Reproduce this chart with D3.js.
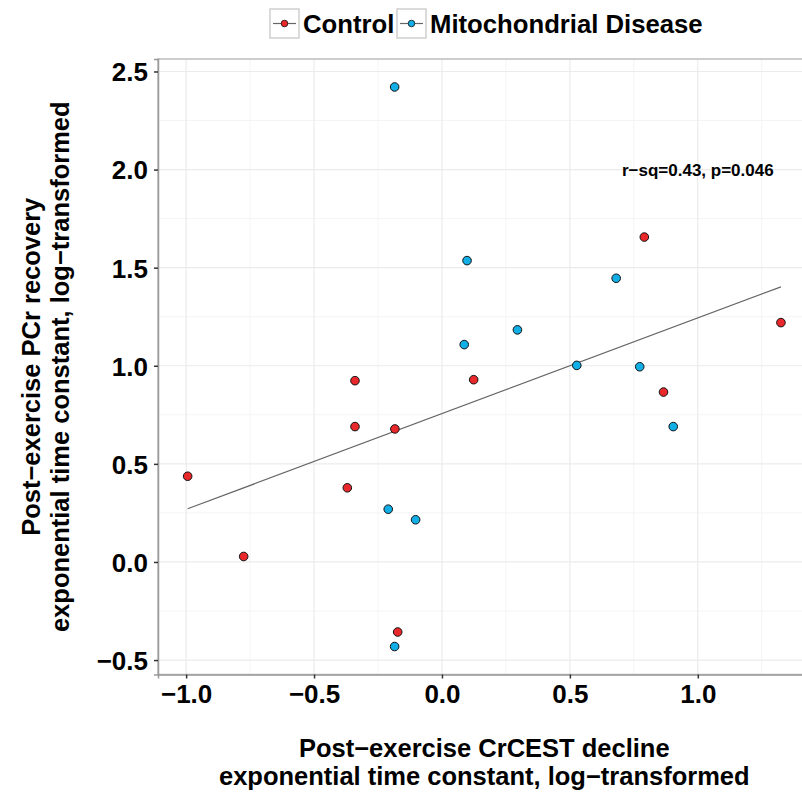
<!DOCTYPE html>
<html>
<head>
<meta charset="utf-8">
<script src="https://cdnjs.cloudflare.com/ajax/libs/d3/7.8.5/d3.min.js"></script>
<style>
  body { margin: 0; background: #ffffff; }
  text { font-family: "Liberation Sans", Arial, Helvetica, sans-serif; font-weight: bold; }
</style>
</head>
<body>
<svg width="802" height="792"></svg>
<script>
// data
var groups = ["Control", "Mitochondrial Disease"];
var controlX = [-0.994, -0.775, -0.370, -0.340, -0.340, -0.184, -0.173, 0.124, 0.791, 0.866, 1.325];
var controlY = [0.437, 0.028, 0.378, 0.924, 0.690, 0.678, -0.357, 0.929, 1.656, 0.866, 1.220];
var diseaseX = [-0.185, -0.210, -0.103, -0.185, 0.087, 0.098, 0.295, 0.527, 0.681, 0.773, 0.904];
var diseaseY = [2.421, 0.269, 0.215, -0.431, 1.108, 1.536, 1.183, 1.002, 1.446, 0.995, 0.690];
var fitX = [-0.994, 1.325];
var fitY = [0.271, 1.402];
var xTicks = [-1.0, -0.5, 0.0, 0.5, 1.0];
var yTicks = [-0.5, 0.0, 0.5, 1.0, 1.5, 2.0, 2.5];
var xMinor = [-0.75, -0.25, 0.25, 0.75, 1.25];
var yMinor = [-0.25, 0.25, 0.75, 1.25, 1.75, 2.25];
var annotation = "r\u2212sq=0.43, p=0.046";

var colors = d3.scaleOrdinal().domain(groups).range(["#e8282b", "#12aee6"]);

var svg = d3.select("svg");
var pLeft = 158, pRight = 810.6, pTop = 59, pBottom = 674.5;

var points = [];
controlX.forEach(function(v, i) { points.push({x: v, y: controlY[i], g: groups[0]}); });
diseaseX.forEach(function(v, i) { points.push({x: v, y: diseaseY[i], g: groups[1]}); });

// ggplot style 5% padding on each side
function expand(ext) {
    var pad = (ext[1] - ext[0]) * 0.05;
    return [ext[0] - pad, ext[1] + pad];
}

var x = d3.scaleLinear()
    .domain(expand(d3.extent(points, function(d) { return d.x; })))
    .range([pLeft, pRight]);
var y = d3.scaleLinear()
    .domain(expand(d3.extent(points, function(d) { return d.y; })))
    .range([pBottom, pTop]);

var fmt = function(d) { return d3.format(".1f")(d).replace("-", "\u2212"); };

// grid
var grid = svg.append("g");
grid.selectAll(".xminor").data(xMinor).enter().append("line")
    .attr("x1", x).attr("x2", x).attr("y1", pTop).attr("y2", pBottom)
    .style("stroke", "#f4f4f4").style("stroke-width", 1);
grid.selectAll(".yminor").data(yMinor).enter().append("line")
    .attr("x1", pLeft).attr("x2", pRight).attr("y1", y).attr("y2", y)
    .style("stroke", "#f4f4f4").style("stroke-width", 1);
grid.selectAll(".xmajor").data(xTicks).enter().append("line")
    .attr("x1", x).attr("x2", x).attr("y1", pTop).attr("y2", pBottom)
    .style("stroke", "#ebebeb").style("stroke-width", 1.2);
grid.selectAll(".ymajor").data(yTicks).enter().append("line")
    .attr("x1", pLeft).attr("x2", pRight).attr("y1", y).attr("y2", y)
    .style("stroke", "#ebebeb").style("stroke-width", 1.2);

// panel border
svg.append("rect")
    .attr("x", pLeft).attr("y", pTop)
    .attr("width", pRight - pLeft).attr("height", pBottom - pTop)
    .attr("fill", "none")
    .style("stroke", "#bdbdbd").style("stroke-width", 1.5);

// axes
var xAxis = svg.append("g")
    .attr("transform", "translate(0," + pBottom + ")")
    .call(d3.axisBottom(x).tickValues(xTicks).tickFormat(fmt).tickSize(4).tickPadding(6));
var yAxis = svg.append("g")
    .attr("transform", "translate(" + pLeft + ",0)")
    .call(d3.axisLeft(y).tickValues(yTicks).tickFormat(fmt).tickSize(4).tickPadding(6));
[xAxis, yAxis].forEach(function(a) {
    a.select(".domain").style("stroke", "#9a9a9a").style("stroke-width", 1.5);
    a.selectAll(".tick line").style("stroke", "#333").style("stroke-width", 1.5);
    a.selectAll(".tick text")
        .style("font-size", "26px").style("font-weight", "bold")
        .style("font-family", "'Liberation Sans', Arial, sans-serif")
        .attr("fill", "#000");
});
yAxis.selectAll(".tick text").attr("dy", "0.36em");

// fit line
svg.append("path")
    .datum(fitX.map(function(v, i) { return [v, fitY[i]]; }))
    .attr("d", d3.line().x(function(d) { return x(d[0]); }).y(function(d) { return y(d[1]); }))
    .attr("fill", "none")
    .style("stroke", "#666").style("stroke-width", 1.2);

// points
svg.selectAll(".pt").data(points).enter().append("circle")
    .attr("cx", function(d) { return x(d.x); })
    .attr("cy", function(d) { return y(d.y); })
    .attr("r", 4.3)
    .attr("fill", function(d) { return colors(d.g); })
    .style("stroke", "#111").style("stroke-width", 1);

// annotation
svg.append("text")
    .attr("x", x(1.0)).attr("y", y(2.0))
    .attr("dy", "0.36em")
    .attr("text-anchor", "middle")
    .style("font-size", "17px")
    .text(annotation);

// axis titles
var xt = svg.append("text").attr("text-anchor", "middle").style("font-size", "25.5px");
xt.append("tspan").attr("x", (pLeft + pRight) / 2).attr("y", 757).text("Post\u2212exercise CrCEST decline");
xt.append("tspan").attr("x", (pLeft + pRight) / 2).attr("y", 785).text("exponential time constant, log\u2212transformed");

var yt = svg.append("text").attr("text-anchor", "middle").style("font-size", "25.5px")
    .attr("transform", "translate(0," + ((pTop + pBottom) / 2) + ") rotate(-90)");
yt.append("tspan").attr("x", 0).attr("y", 40).text("Post\u2212exercise PCr recovery");
yt.append("tspan").attr("x", 0).attr("y", 69).text("exponential time constant, log\u2212transformed");

// legend
var legendX = [270, 397];
var legend = svg.selectAll(".leg").data(groups).enter().append("g")
    .attr("transform", function(d, i) { return "translate(" + legendX[i] + ",9)"; });
legend.append("rect")
    .attr("width", 29).attr("height", 29)
    .attr("fill", "#ffffff")
    .style("stroke", "#cfcfcf").style("stroke-width", 1.5);
legend.append("line")
    .attr("x1", 3).attr("x2", 26).attr("y1", 14.5).attr("y2", 14.5)
    .style("stroke", "#666").style("stroke-width", 1.2);
legend.append("circle")
    .attr("cx", 14.5).attr("cy", 14.5).attr("r", 3.3)
    .attr("fill", function(d) { return colors(d); })
    .style("stroke", "#111").style("stroke-width", 0.8);
legend.append("text")
    .attr("x", 33).attr("y", 24)
    .style("font-size", "25.7px")
    .text(function(d) { return d; });
</script>
</body>
</html>
